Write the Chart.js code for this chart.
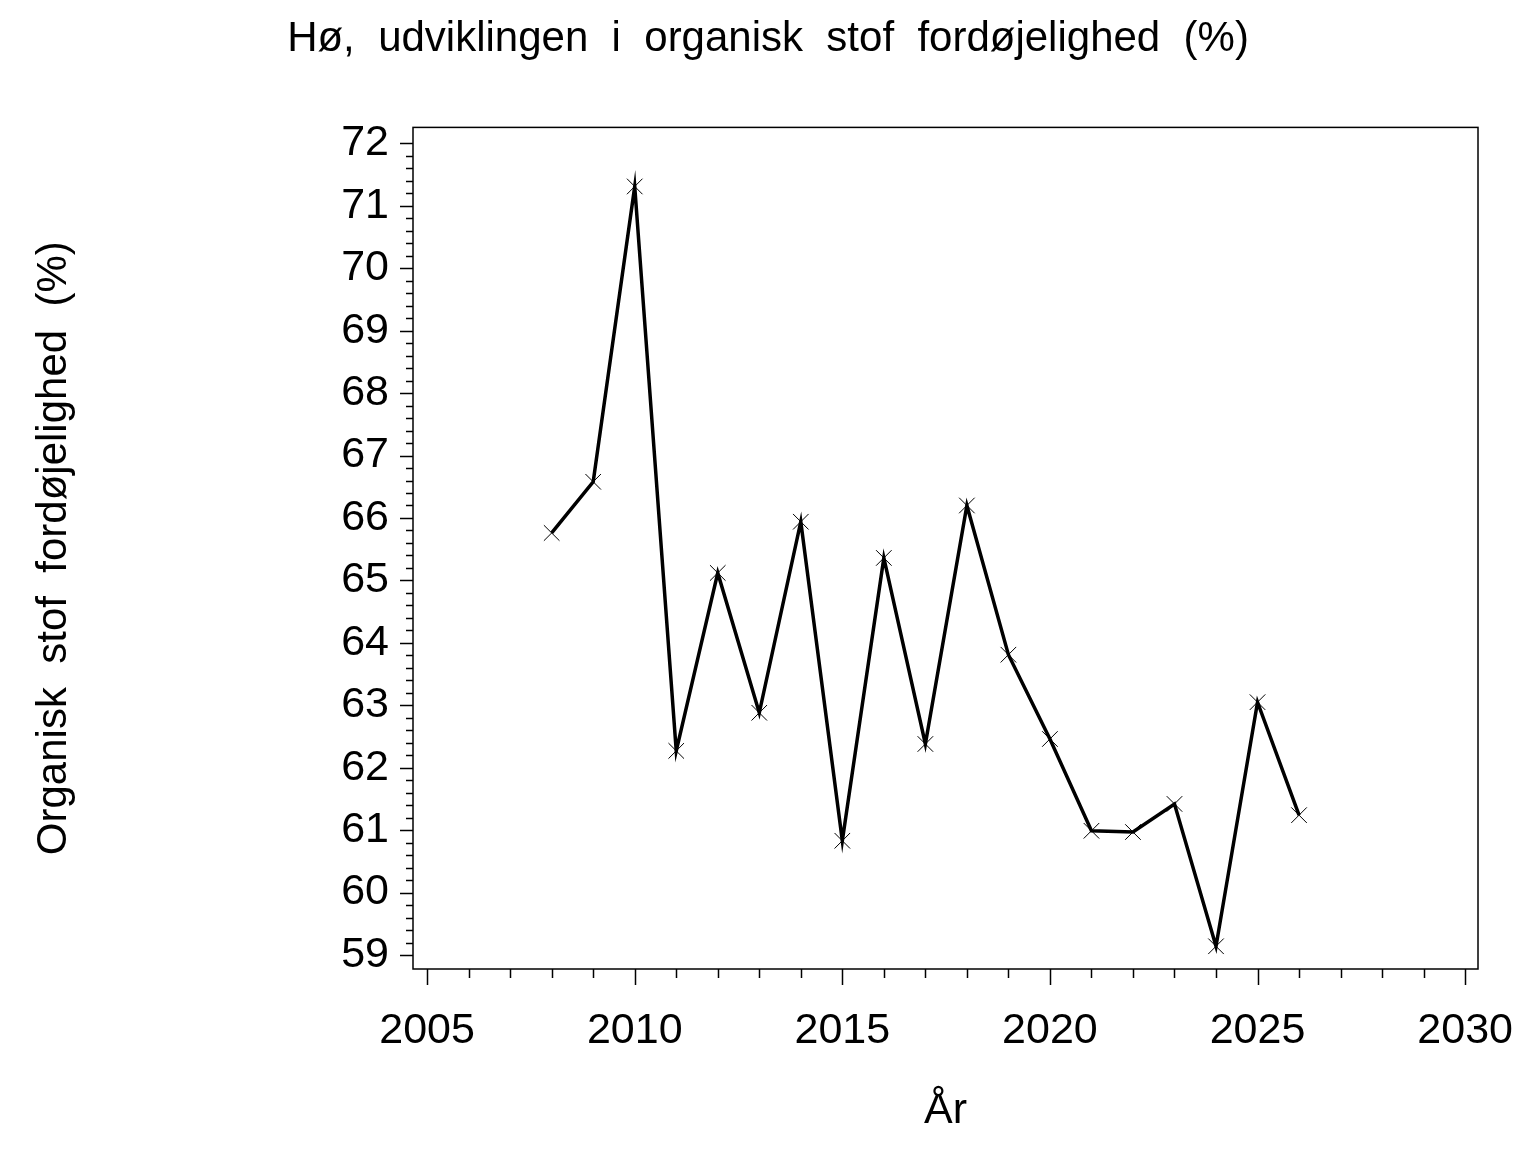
<!DOCTYPE html>
<html>
<head>
<meta charset="utf-8">
<script src="https://cdn.jsdelivr.net/npm/chart.js@4.4.1/dist/chart.umd.min.js"></script>
<style>
  html, body { margin: 0; padding: 0; background: #fff; }
  #wrap { width: 1536px; height: 1152px; }
</style>
</head>
<body>
<div id="wrap"><canvas id="c" width="1536" height="1152"></canvas></div>
<script>
// Data
const years = [2008, 2009, 2010, 2011, 2012, 2013, 2014, 2015, 2016, 2017,
               2018, 2019, 2020, 2021, 2022, 2023, 2024, 2025, 2026];
const digestibility = [65.76, 66.58, 71.31, 62.27, 65.12, 62.88, 65.94, 60.83, 65.36, 62.38,
                       66.20, 63.81, 62.46, 60.99, 60.97, 61.42, 59.14, 63.05, 61.24];
const xMajorTicks = [2005, 2010, 2015, 2020, 2025, 2030];
const yMajorTicks = [59, 60, 61, 62, 63, 64, 65, 66, 67, 68, 69, 70, 71, 72];

const FONT = "'Liberation Sans', Arial, sans-serif";

// Tick marks drawn outside the frame, SAS style (major + minor)
const tickMarks = {
    id: 'tickMarks',
    afterDraw(chart) {
        const { ctx, chartArea: a, scales: { x, y } } = chart;
        ctx.save();
        ctx.strokeStyle = '#000';
        ctx.lineWidth = 1.5;
        ctx.beginPath();
        // y: minor every 0.2
        for (let i = 59 * 5; i <= 72 * 5; i++) {
            const v = i / 5;
            const py = Math.round(y.getPixelForValue(v)) + 0.5;
            const len = (i % 5 === 0) ? 13 : 7;
            ctx.moveTo(a.left, py);
            ctx.lineTo(a.left - len, py);
        }
        // x: minor every year
        for (let v = 2005; v <= 2030; v++) {
            const px = Math.round(x.getPixelForValue(v)) + 0.5;
            const len = (v % 5 === 0) ? 16 : 9;
            ctx.moveTo(px, a.bottom);
            ctx.lineTo(px, a.bottom + len);
        }
        ctx.stroke();
        // frame
        ctx.strokeRect(a.left, a.top, a.right - a.left, a.bottom - a.top);
        ctx.restore();
    }
};

new Chart(document.getElementById('c'), {
    type: 'line',
    data: {
        datasets: [{
            data: years.map((yr, i) => ({ x: yr, y: digestibility[i] })),
            borderColor: '#000',
            borderWidth: 3.5,
            tension: 0,
            pointStyle: 'crossRot',
            pointRadius: 11,
            pointBorderWidth: 1,
            pointBorderColor: '#000',
            pointHoverRadius: 11
        }]
    },
    options: {
        responsive: false,
        animation: false,
        devicePixelRatio: 1,
        layout: { padding: 0 },
        plugins: {
            legend: { display: false },
            tooltip: { enabled: false },
            title: {
                display: true,
                text: 'Hø,  udviklingen  i  organisk  stof  fordøjelighed  (%)',
                color: '#000',
                font: { family: FONT, size: 42, weight: 'normal' },
                padding: { top: 14, bottom: 63 }
            }
        },
        scales: {
            x: {
                type: 'linear',
                min: 2004.66,
                max: 2030.31,
                afterBuildTicks: s => { s.ticks = xMajorTicks.map(v => ({ value: v })); },
                afterFit: s => { s.height = 183; s.paddingLeft = 0; s.paddingRight = 0; },
                grid: { display: false, drawTicks: false },
                border: { display: false },
                ticks: {
                    color: '#000',
                    padding: 36,
                    maxRotation: 0,
                    callback: v => String(v),
                    font: { family: FONT, size: 43 }
                },
                title: {
                    display: true,
                    text: 'År',
                    color: '#000',
                    font: { family: FONT, size: 43 },
                    padding: { top: 0, bottom: 15 }
                }
            },
            y: {
                type: 'linear',
                position: 'left',
                min: 58.776,
                max: 72.256,
                afterBuildTicks: s => { s.ticks = yMajorTicks.map(v => ({ value: v })); },
                afterFit: s => { s.width = 413; s.paddingTop = 0; s.paddingBottom = 0; },
                grid: { display: false, drawTicks: false },
                border: { display: false },
                ticks: {
                    color: '#000',
                    padding: 24,
                    callback: v => String(v),
                    font: { family: FONT, size: 43 }
                },
                title: {
                    display: true,
                    text: 'Organisk  stof  fordøjelighed  (%)',
                    color: '#000',
                    font: { family: FONT, size: 42 },
                    padding: { top: 29, bottom: 0 }
                }
            },
            yRight: {
                type: 'linear',
                position: 'right',
                display: true,
                grid: { display: false, drawTicks: false },
                border: { display: false },
                ticks: { display: false },
                afterFit: s => { s.width = 58; s.paddingTop = 0; s.paddingBottom = 0; }
            }
        }
    },
    plugins: [tickMarks]
});
</script>
</body>
</html>
